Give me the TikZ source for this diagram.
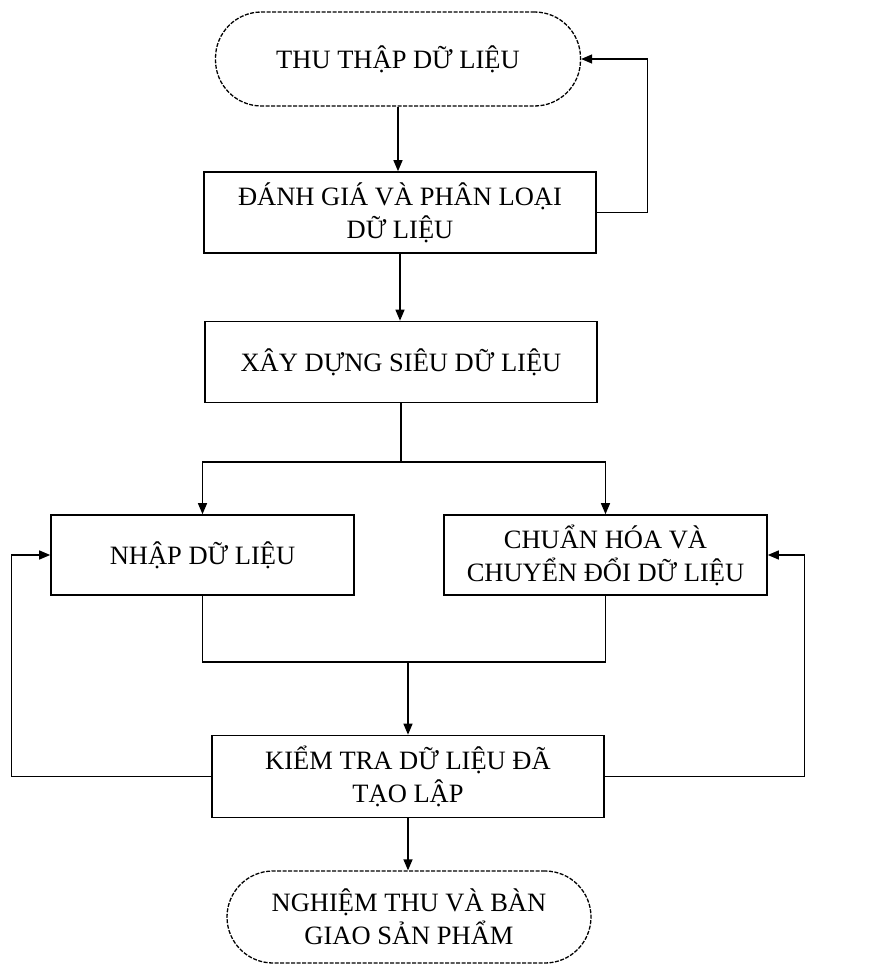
\documentclass[tikz,border=0pt]{standalone}
\usepackage{fontspec}
\setmainfont{Liberation Serif}
\usetikzlibrary{arrows.meta}
\begin{document}
\begin{tikzpicture}[x=1pt,y=-1pt,
  txt/.style={align=center,inner sep=0pt,font=\fontsize{26.5}{33}\selectfont},
  box/.style={txt,draw,line width=1.6pt,minimum height=81pt},
  term/.style={txt,draw,dash pattern=on 4pt off 1.5pt,line width=1.3pt,rounded corners=46pt},
  conn/.style={line width=1.3pt},
  arr/.style={conn,-{Triangle[length=11pt,width=9pt]}}]
\useasboundingbox (0,0) rectangle (882,966);
% nodes
\node[term,minimum width=365pt,minimum height=94pt] (t1) at (398,59) {THU THẬP DỮ LIỆU};
\node[box,minimum width=392pt] (b2) at (400,212.5) {ĐÁNH GIÁ VÀ PHÂN LOẠI\\DỮ LIỆU};
\node[box,minimum width=392pt] (b3) at (401,362) {XÂY DỰNG SIÊU DỮ LIỆU};
\node[box,minimum width=303pt,minimum height=80pt] (b4) at (202.5,555) {NHẬP DỮ LIỆU};
\node[box,minimum width=323pt,minimum height=80pt] (b5) at (605.5,555) {CHUẨN HÓA VÀ\\CHUYỂN ĐỔI DỮ LIỆU};
\node[box,minimum width=392pt,minimum height=82pt] (b6) at (408,776.5) {KIỂM TRA DỮ LIỆU ĐÃ\\TẠO LẬP};
\node[term,minimum width=364pt,minimum height=92pt] (t7) at (409,917) {NGHIỆM THU VÀ BÀN\\GIAO SẢN PHẨM};
% coordinates
\coordinate (split) at (401,462);
\coordinate (merge) at (408,662);
% connectors
\draw[arr] (t1.south) -- (t1.south |- b2.north);
\draw[arr] (b2.east) -- ++(51,0) |- (t1.east);
\draw[arr] (b2.south) -- (b2.south |- b3.north);
\draw[conn] (b3.south) -- (split);
\draw[arr] (split) -| (b4.north);
\draw[arr] (split) -| (b5.north);
\draw[conn] (b4.south) |- (merge);
\draw[conn] (b5.south) |- (merge);
\draw[arr] (merge) -- (b6.north);
\draw[arr] (b6.west) -- ++(-200,0) |- (b4.west);
\draw[arr] (b6.east) -- ++(200,0) |- (b5.east);
\draw[arr] (b6.south) -- (b6.south |- t7.north);
\end{tikzpicture}
\end{document}
